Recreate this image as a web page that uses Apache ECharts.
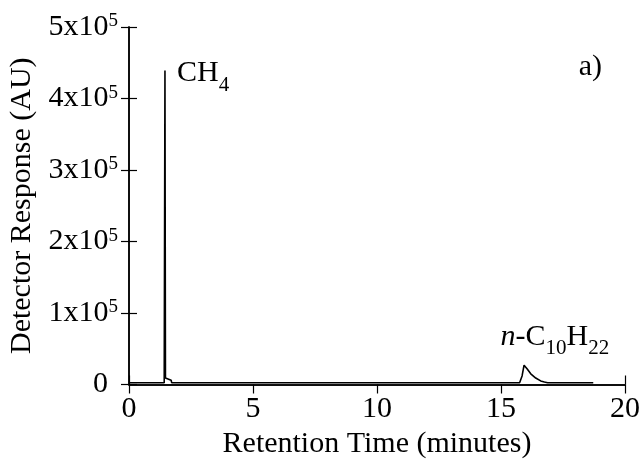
<!DOCTYPE html>
<html>
<head>
<meta charset="utf-8">
<script src="https://cdn.jsdelivr.net/npm/echarts@6/dist/echarts.min.js"></script>
<style>
  html, body { margin: 0; padding: 0; background: #fff; }
  #chart { width: 643px; height: 460px; }
</style>
</head>
<body>
<div id="chart"></div>
<script>
// retention time (minutes) and detector response (AU)
const times = [0, 1.42, 1.45, 1.47, 1.49, 1.70, 1.72, 5, 10, 15, 15.75, 15.85, 15.93, 16.05, 16.2, 16.4, 16.6, 16.75, 16.88, 18.72];
const response = [2500, 2500, 439000, 9000, 6500, 6000, 2500, 2500, 2500, 2500, 2500, 12000, 27000, 22000, 15000, 9000, 5000, 3500, 2500, 2500];

// tick labels
const xTicks = [0, 5, 10, 15, 20];
const yTicks = [0, 1e5, 2e5, 3e5, 4e5, 5e5];

const peakLabels = [
  { name: 'CH4', time: 1.45, value: 439000, text: '{m|CH}{sub|4}' },
  { name: 'n-C10H22', time: 16.0, value: 27000, text: '{it|n}{m|-C}{sub|10}{m|H}{sub|22}' }
];

const FONT = 'Liberation Serif, Times New Roman, serif';
const FS = 30;
const chart = echarts.init(document.getElementById('chart'));

// main text sits at the top of the line, subscripts are pushed down with top padding
const richText = {
  m: { fontFamily: FONT, fontSize: FS, color: '#000', verticalAlign: 'top' },
  it: { fontFamily: FONT, fontSize: FS, color: '#000', fontStyle: 'italic', verticalAlign: 'top' },
  sub: { fontFamily: FONT, fontSize: 21, color: '#000', verticalAlign: 'top', padding: [16, 0, 0, 0] }
};

const option = {
  backgroundColor: '#fff',
  animation: false,
  textStyle: { fontFamily: FONT },
  grid: { left: 129, right: 18, top: 27, bottom: 75.5, containLabel: false, outerBoundsMode: 'none' },
  xAxis: [{
    type: 'value',
    min: xTicks[0],
    max: xTicks[xTicks.length - 1],
    interval: 5,
    name: 'Retention Time (minutes)',
    nameLocation: 'middle',
    nameGap: 43,
    nameTextStyle: { fontFamily: FONT, fontSize: FS, color: '#000' },
    axisLine: { lineStyle: { color: '#000', width: 1.5 } },
    axisTick: { inside: false, length: 9, lineStyle: { color: '#000', width: 1.2 } },
    axisLabel: { fontFamily: FONT, fontSize: FS, color: '#000', margin: 10 },
    splitLine: { show: false }
  }, {
    type: 'value',
    position: 'top',
    min: 0,
    max: 20,
    interval: 20,
    axisLine: { show: true, lineStyle: { color: '#000', width: 1.5 } },
    axisTick: { show: true, inside: false, length: 9, lineStyle: { color: '#000', width: 1.2 } },
    axisLabel: { show: false },
    splitLine: { show: false }
  }],
  yAxis: [{
    type: 'value',
    min: yTicks[0],
    max: yTicks[yTicks.length - 1],
    interval: 1e5,
    name: 'Detector Response (AU)',
    nameLocation: 'middle',
    nameGap: 86,
    nameTextStyle: { fontFamily: FONT, fontSize: FS, color: '#000' },
    axisLine: { show: true, lineStyle: { color: '#000', width: 1.5 } },
    axisTick: { show: true, inside: true, length: 8, lineStyle: { color: '#000', width: 1.2 } },
    axisLabel: {
      margin: 11,
      fontFamily: FONT,
      fontSize: FS,
      color: '#000',
      lineHeight: 30,
      formatter: v => v === 0 ? '{z|0}' : (v / 1e5) + 'x10{sup|5}',
      rich: {
        sup: { fontFamily: FONT, fontSize: 19, color: '#000', verticalAlign: 'top', lineHeight: 22 },
        z: { fontFamily: FONT, fontSize: FS, color: '#000', lineHeight: 30, padding: [0, 10, 0, 0] }
      }
    },
    splitLine: { show: false }
  }, {
    type: 'value',
    position: 'right',
    min: 0,
    max: 5e5,
    interval: 1e5,
    axisLine: { show: true, lineStyle: { color: '#000', width: 1.5 } },
    axisTick: { show: true, inside: true, length: 8, lineStyle: { color: '#000', width: 1.2 } },
    axisLabel: { show: false },
    splitLine: { show: false }
  }],
  graphic: [{
    type: 'text',
    right: 41,
    top: 52,
    style: { text: 'a)', font: FS + 'px ' + FONT, fill: '#000' }
  }],
  series: [{
    type: 'line',
    data: times.map((t, i) => [t, response[i]]),
    showSymbol: false,
    symbol: 'none',
    lineStyle: { color: '#000', width: 1.6 },
    z: 5,
    markPoint: {
      symbol: 'circle',
      symbolSize: 0,
      data: [
        {
          coord: [peakLabels[0].time, peakLabels[0].value],
          label: {
            show: true,
            position: 'right',
            offset: [7, 6.5],
            formatter: peakLabels[0].text,
            rich: richText
          }
        },
        {
          coord: [peakLabels[1].time, peakLabels[1].value],
          label: {
            show: true,
            position: 'top',
            offset: [29, -1],
            formatter: peakLabels[1].text,
            rich: richText
          }
        }
      ]
    }
  }]
};

chart.setOption(option);
</script>
</body>
</html>
